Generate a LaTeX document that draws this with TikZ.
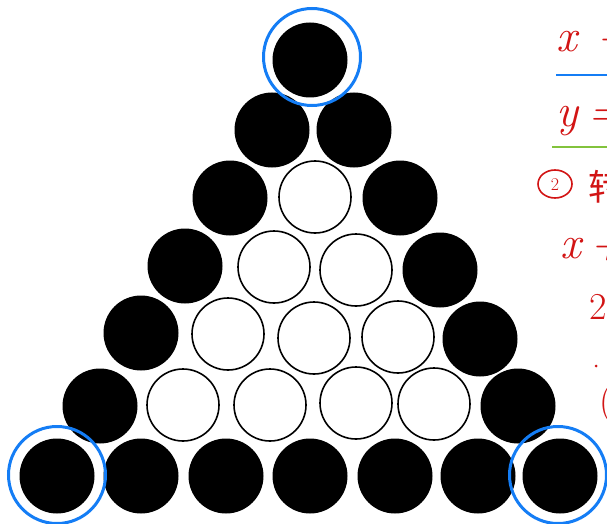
\documentclass[tikz,border=0pt]{standalone}
\usepackage{fontspec}
\newfontfamily\cjkfont{Noto Sans CJK SC}
\definecolor{hand}{RGB}{210,20,20}
\definecolor{ringblue}{RGB}{20,125,245}
\definecolor{linegreen}{RGB}{130,195,60}
\begin{document}
\begin{tikzpicture}[x=1pt,y=-1pt,
  blackdot/.style={circle,fill=black,inner sep=0pt,minimum size=75pt},
  whitedot/.style={circle,draw=black,line width=1.6pt,fill=white,inner sep=0pt,minimum size=72pt},
  ring/.style={circle,draw=ringblue,line width=3pt,inner sep=0pt,minimum size=97pt},
  handtext/.style={text=hand,inner sep=0pt,anchor=base west,font=\itshape\fontsize{46}{46}\selectfont}]
\useasboundingbox (0,0) rectangle (607,524);
\clip (0,0) rectangle (607,524);
% row 0
\node[blackdot] (a1) at (310,60) {};
% row 1
\node[blackdot] (b1) at (272,130) {};
\node[blackdot] (b2) at (354,130) {};
% row 2
\node[blackdot] (c1) at (230,198) {};
\node[whitedot] (c2) at (315,197) {};
\node[blackdot] (c3) at (400,198) {};
% row 3
\node[blackdot] (d1) at (185,266) {};
\node[whitedot] (d2) at (274,267) {};
\node[whitedot] (d3) at (356,270) {};
\node[blackdot] (d4) at (440,270) {};
% row 4
\node[blackdot] (e1) at (141,333) {};
\node[whitedot] (e2) at (228,334) {};
\node[whitedot] (e3) at (314,338) {};
\node[whitedot] (e4) at (398,337) {};
\node[blackdot] (e5) at (480,339) {};
% row 5
\node[blackdot] (f1) at (100,406) {};
\node[whitedot] (f2) at (183,405) {};
\node[whitedot] (f3) at (270,405) {};
\node[whitedot] (f4) at (356,403) {};
\node[whitedot] (f5) at (434,404) {};
\node[blackdot] (f6) at (518,406) {};
% row 6
\node[blackdot] (g1) at (57,476) {};
\node[blackdot] (g2) at (141,476) {};
\node[blackdot] (g3) at (226,476) {};
\node[blackdot] (g4) at (310,476) {};
\node[blackdot] (g5) at (395,476) {};
\node[blackdot] (g6) at (478,476) {};
\node[blackdot] (g7) at (560,476) {};
% rings
\node[ring] (ra) at (312,57) {};
\node[ring] (rb) at (57,475) {};
\node[ring] (rc) at (558,475) {};
% handwritten notes at right edge
\node[handtext] (t1) at (556,52) {x};
\node[handtext,anchor=base] (t1p) at (614,52) {+};
\draw[ringblue,line width=2.5pt] (556,75) -- (607,75);
\node[handtext] (t2) at (556,127) {y};
\node[handtext] (t2e) at (588,127) {=};
\draw[linegreen,line width=2.5pt] (552,147) -- (607,147);
\draw[hand,line width=1.6pt] (555,184) ellipse (17pt and 14pt);
\node[text=hand,font=\fontsize{18}{18}\selectfont] (t3) at (555,185) {2};
\node[handtext,font=\cjkfont\fontsize{36}{36}\selectfont] (t4) at (588,200) {转};
\node[handtext] (t5) at (560,258) {x};
\node[handtext,anchor=base] (t5p) at (608,258) {+};
\node[handtext,font=\fontsize{38}{38}\selectfont] (t6) at (589,319) {2};
\fill[hand] (596,366) circle (1.5pt);
\node[handtext,font=\fontsize{38}{38}\selectfont] (t7) at (599,413) {(};
\end{tikzpicture}
\end{document}
